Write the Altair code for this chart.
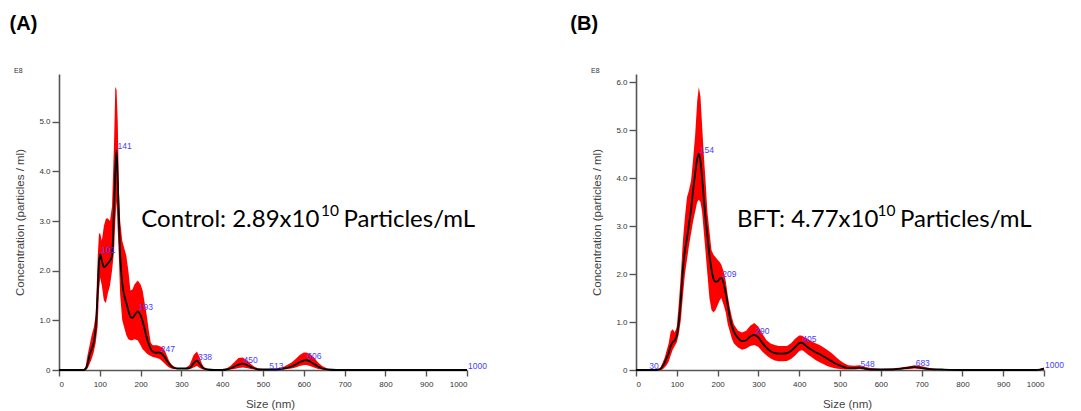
import altair as alt
import pandas as pd

# ---------------- Control (A) ----------------
ctrl_size = [0, 50, 60, 65, 70, 75, 80, 85, 90, 95, 98, 101, 105, 110, 115, 120, 125, 130, 135, 138,
             141, 144, 147, 150, 155, 160, 165, 170, 175, 180, 185, 193, 200, 205, 210, 215, 220, 225,
             230, 235, 240, 247, 255, 260, 265, 270, 275, 280, 290, 300, 310, 320, 325, 330, 338, 345,
             350, 355, 365, 380, 400, 410, 420, 430, 440, 450, 460, 470, 480, 490, 500, 513, 530, 550,
             570, 580, 590, 600, 606, 615, 625, 635, 645, 660, 680, 700, 800, 1000]
ctrl_mean = [0, 0, 0, 0.02, 0.12, 0.3, 0.42, 0.55, 0.85, 1.6, 2.15, 2.33, 2.2, 2.07, 2.1, 2.15, 2.2, 2.3, 3.3, 4.0,
             4.42, 3.8, 3.0, 2.3, 1.75, 1.5, 1.35, 1.2, 1.07, 1.05, 1.1, 1.18, 1.1, 0.98, 0.82, 0.65, 0.52, 0.42,
             0.37, 0.35, 0.35, 0.35, 0.3, 0.25, 0.18, 0.12, 0.08, 0.05, 0.03, 0.03, 0.03, 0.04, 0.08, 0.14, 0.19, 0.12,
             0.07, 0.03, 0.01, 0, 0, 0.01, 0.03, 0.07, 0.11, 0.13, 0.1, 0.06, 0.03, 0.01, 0.01, 0.01, 0.01, 0.03,
             0.07, 0.11, 0.16, 0.19, 0.2, 0.17, 0.12, 0.07, 0.03, 0.01, 0, 0, 0, 0]
ctrl_upper = [0, 0, 0.01, 0.06, 0.3, 0.5, 0.7, 0.85, 1.1, 2.3, 2.75, 2.75, 2.6, 2.9, 3.05, 3.05, 3.0, 3.3, 4.6, 5.7,
              5.65, 5.0, 3.6, 3.0, 2.6, 2.45, 2.3, 2.0, 1.6, 1.62, 1.72, 1.8, 1.72, 1.6, 1.35, 1.1, 0.8, 0.55,
              0.5, 0.5, 0.5, 0.48, 0.45, 0.38, 0.28, 0.18, 0.12, 0.08, 0.04, 0.04, 0.04, 0.1, 0.2, 0.3, 0.37, 0.25,
              0.13, 0.06, 0.02, 0.01, 0.01, 0.03, 0.08, 0.16, 0.24, 0.25, 0.2, 0.12, 0.06, 0.03, 0.02, 0.02, 0.03, 0.06,
              0.15, 0.22, 0.3, 0.35, 0.35, 0.32, 0.25, 0.15, 0.08, 0.02, 0.01, 0, 0, 0]
ctrl_lower = [0, 0, 0, 0, 0.03, 0.12, 0.22, 0.35, 0.55, 0.9, 1.6, 1.85, 1.7, 1.4, 1.35, 1.55, 1.7, 2.0, 2.4, 3.0,
              3.4, 2.8, 2.2, 1.5, 1.0, 0.85, 0.7, 0.62, 0.6, 0.6, 0.62, 0.6, 0.5, 0.42, 0.38, 0.33, 0.3, 0.28,
              0.26, 0.25, 0.24, 0.22, 0.16, 0.12, 0.08, 0.05, 0.03, 0.02, 0.02, 0.02, 0.02, 0.02, 0.03, 0.05, 0.08, 0.04,
              0.02, 0.01, 0, 0, 0, 0, 0.01, 0.02, 0.04, 0.05, 0.04, 0.02, 0.01, 0, 0, 0, 0, 0.01,
              0.03, 0.05, 0.08, 0.1, 0.1, 0.08, 0.05, 0.02, 0.01, 0, 0, 0, 0, 0]
ctrl_peak_size = [101, 141, 193, 247, 338, 450, 513, 606, 1000]
ctrl_peak_conc = [2.33, 4.42, 1.18, 0.35, 0.19, 0.13, 0.01, 0.2, 0]
ctrl_peak_label = ["101", "141", "193", "247", "338", "450", "513", "606", "1000"]

# ---------------- BFT (B) ----------------
bft_size = [0, 30, 50, 60, 65, 70, 75, 80, 85, 90, 95, 100, 105, 110, 115, 120, 125, 130, 135, 140, 145, 150,
            154, 158, 162, 166, 170, 175, 180, 185, 190, 195, 200, 205, 209, 215, 220, 225, 230, 235, 240, 250,
            260, 270, 280, 290, 300, 310, 320, 330, 340, 350, 360, 370, 380, 390, 400, 405, 410, 420, 430, 440,
            450, 460, 470, 480, 490, 500, 510, 520, 535, 548, 560, 575, 600, 625, 650, 670, 683, 700, 720, 750,
            800, 900, 980, 990, 1000]
bft_mean = [0, 0, 0, 0.02, 0.08, 0.15, 0.25, 0.35, 0.5, 0.58, 0.62, 0.72, 1.0, 1.5, 2.1, 2.5, 2.75, 3.05, 3.35, 3.75, 4.1, 4.4,
            4.51, 4.35, 4.0, 3.6, 3.2, 2.8, 2.4, 2.1, 1.9, 1.84, 1.85, 1.9, 1.92, 1.8, 1.6, 1.35, 1.1, 0.92, 0.8, 0.67,
            0.6, 0.62, 0.7, 0.73, 0.68, 0.56, 0.46, 0.39, 0.35, 0.34, 0.34, 0.35, 0.4, 0.48, 0.56, 0.57, 0.55, 0.48, 0.42, 0.37,
            0.33, 0.28, 0.23, 0.18, 0.13, 0.09, 0.06, 0.04, 0.04, 0.05, 0.03, 0.01, 0.01, 0.01, 0.03, 0.05, 0.06, 0.04, 0.02, 0.01,
            0, 0, 0, 0.01, 0.03]
bft_upper = [0, 0, 0.01, 0.05, 0.15, 0.25, 0.4, 0.55, 0.8, 0.85, 0.78, 0.9, 1.4, 2.0, 2.7, 3.2, 3.6, 3.75, 3.95, 4.4, 4.9, 5.6,
             5.9, 5.7, 5.1, 4.5, 4.0, 3.3, 2.9, 2.5, 2.4, 2.35, 2.3, 2.25, 2.2, 2.05, 1.85, 1.55, 1.3, 1.1, 0.95, 0.82,
             0.78, 0.82, 0.92, 0.98, 0.9, 0.75, 0.62, 0.55, 0.52, 0.5, 0.5, 0.5, 0.56, 0.65, 0.72, 0.72, 0.7, 0.65, 0.6, 0.56,
             0.52, 0.47, 0.41, 0.35, 0.27, 0.2, 0.14, 0.1, 0.09, 0.1, 0.07, 0.04, 0.02, 0.03, 0.05, 0.08, 0.1, 0.08, 0.04, 0.01,
             0.01, 0, 0.01, 0.02, 0.05]
bft_lower = [0, 0, 0, 0, 0.01, 0.05, 0.1, 0.17, 0.3, 0.42, 0.5, 0.58, 0.75, 1.05, 1.55, 2.0, 2.3, 2.6, 2.85, 3.1, 3.3, 3.5,
             3.55, 3.5, 3.3, 2.9, 2.5, 2.0, 1.5, 1.25, 1.2, 1.25, 1.35, 1.45, 1.5, 1.35, 1.2, 0.95, 0.8, 0.65, 0.55, 0.47,
             0.42, 0.45, 0.5, 0.52, 0.48, 0.38, 0.3, 0.24, 0.2, 0.18, 0.18, 0.19, 0.23, 0.3, 0.39, 0.41, 0.4, 0.33, 0.27, 0.21,
             0.16, 0.12, 0.08, 0.05, 0.03, 0.02, 0.01, 0.01, 0.01, 0.02, 0.01, 0, 0, 0, 0.01, 0.02, 0.03, 0.02, 0, 0,
             0, 0, 0, 0, 0]
bft_peak_size = [30, 154, 209, 290, 405, 548, 683, 1000]
bft_peak_conc = [0, 4.51, 1.92, 0.73, 0.57, 0.05, 0.06, 0.03]
bft_peak_label = ["30", "154", "209", "290", "405", "548", "683", "1000"]

x_ticks = [0, 100, 200, 300, 400, 500, 600, 700, 800, 900, 1000]

W, H = 408, 296
AX = "#555555"
FONT = "Liberation Sans"


def panel(size, mean, upper, lower, psize, pconc, plabel, ymax, yticks,
          letter, letter_x, ann_main, ann_x, sup_x, ann_end_x):
    df = pd.DataFrame({"size": size, "mean": mean, "upper": upper, "lower": lower})
    pk = pd.DataFrame({"size": psize, "conc": pconc, "label": plabel})
    xs = alt.Scale(domain=[0, 1000], nice=False)
    ys = alt.Scale(domain=[0, ymax], nice=False)
    band = alt.Chart(df).mark_area(color="#ff0000", opacity=1).encode(
        x=alt.X("size:Q", scale=xs, axis=alt.Axis(
            values=x_ticks, title="Size (nm)", format="d",
            titleX=211, titleY=34, titleBaseline="middle")),
        y=alt.Y("upper:Q", scale=ys, axis=alt.Axis(
            values=yticks, title="Concentration (particles / ml)",
            labelExpr="datum.value == 0 ? '0' : format(datum.value, '.1f')",
            titleX=-38.5, titleY=H / 2, titleBaseline="middle", titleAlign="center")),
        y2="lower:Q",
    )
    line = alt.Chart(df).mark_line(color="black", strokeWidth=1.8, interpolate="monotone").encode(
        x="size:Q", y="mean:Q")
    labels = alt.Chart(pk).mark_text(
        color="#4a3cff", fontSize=8.5, font=FONT, align="left", baseline="bottom", dx=1, dy=1
    ).encode(x="size:Q", y="conc:Q", text="label:N")

    one = pd.DataFrame({"k": [0]})
    e8 = alt.Chart(one).mark_text(text="E8", fontSize=7, font=FONT, color="#333333",
                                  align="left", baseline="middle").encode(
        x=alt.value(-45), y=alt.value(-3.5))
    lett = alt.Chart(one).mark_text(text=letter, fontSize=20, font=FONT, fontWeight="bold",
                                    color="black", align="left", baseline="middle").encode(
        x=alt.value(letter_x), y=alt.value(-50))
    main = alt.Chart(one).mark_text(text=ann_main, fontSize=24, font="Lato", color="black",
                                    align="left", baseline="alphabetic").encode(
        x=alt.value(ann_x), y=alt.value(153))
    sup = alt.Chart(one).mark_text(text="10", fontSize=15.5, font="Lato", color="black",
                                   align="left", baseline="alphabetic").encode(
        x=alt.value(sup_x), y=alt.value(142))
    end = alt.Chart(one).mark_text(text="Particles/mL", fontSize=24, font="Lato", color="black",
                                   align="left", baseline="alphabetic").encode(
        x=alt.value(ann_end_x), y=alt.value(153))
    return alt.layer(band, line, labels, e8, lett, main, sup, end).properties(width=W, height=H)


a = panel(ctrl_size, ctrl_mean, ctrl_upper, ctrl_lower, ctrl_peak_size, ctrl_peak_conc, ctrl_peak_label,
          5.96, [0, 1, 2, 3, 4, 5], "(A)", -49.4, "Control: 2.89x10", 82.3, 262, 284.5)
b = panel(bft_size, bft_mean, bft_upper, bft_lower, bft_peak_size, bft_peak_conc, bft_peak_label,
          6.17, [0, 1, 2, 3, 4, 5, 6], "(B)", -65.7, "BFT: 4.77x10", 101, 241.5, 264)

chart = alt.hconcat(a, b, spacing=169, bounds="flush").properties(
    padding={"left": 9, "top": 14, "right": 2, "bottom": 2}
).configure_view(stroke=None).configure_axis(
    grid=False, domainColor=AX, domainWidth=1.6, tickColor=AX, tickWidth=1.4,
    labelFont=FONT, labelFontSize=8, labelColor="#333333",
    titleFont=FONT, titleFontSize=11.5, titleColor="#444444", titleFontWeight="normal",
).configure_axisX(tickSize=6, labelPadding=4).configure_axisY(tickSize=7, labelPadding=2)

chart.save("out.html", embed_options={"renderer": "svg", "actions": False})
